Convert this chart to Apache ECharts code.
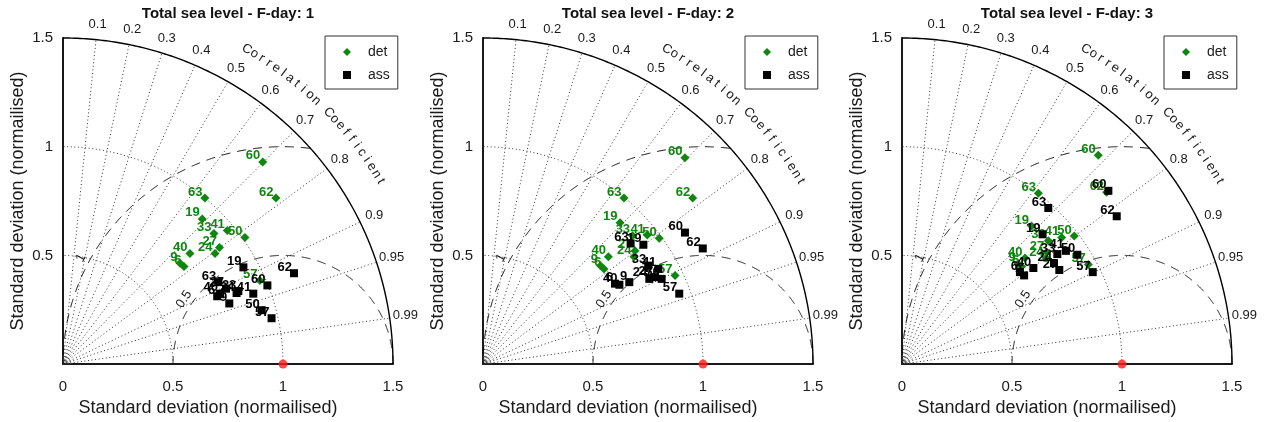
<!DOCTYPE html>
<html><head><meta charset="utf-8">
<script src="https://cdn.jsdelivr.net/npm/echarts@6/dist/echarts.min.js"></script>
<style>html,body{margin:0;padding:0;background:#fff}#c{width:1264px;height:422px}</style>
</head><body><div id="c"></div><script>
// ---- data (x = std*corr, y = std*sqrt(1-corr^2), normalised) ----
const STATIONS = ['6','9','19','24','27','33','40','41','50','57','60','62','63'];

const DET_DAY1 = [[0.550,0.449],[0.532,0.464],[0.633,0.668],[0.691,0.509],[0.711,0.536],[0.686,0.601],[0.577,0.509],[0.747,0.615],[0.827,0.582],[0.895,0.385],[0.908,0.930],[0.968,0.764],[0.645,0.764]];
const ASS_DAY1 = [[0.701,0.312],[0.756,0.279],[0.820,0.445],[0.789,0.327],[0.741,0.347],[0.797,0.336],[0.714,0.324],[0.865,0.324],[0.903,0.248],[0.948,0.211],[0.929,0.362],[1.050,0.418],[0.706,0.377]];

const DET_DAY2 = [[0.550,0.438],[0.534,0.452],[0.623,0.650],[0.686,0.494],[0.691,0.521],[0.680,0.590],[0.570,0.494],[0.747,0.594],[0.801,0.579],[0.873,0.408],[0.918,0.949],[0.953,0.764],[0.641,0.764]];
const ASS_DAY2 = [[0.600,0.370],[0.665,0.377],[0.729,0.549],[0.756,0.392],[0.782,0.400],[0.751,0.453],[0.620,0.365],[0.797,0.438],[0.812,0.392],[0.892,0.324],[0.918,0.605],[0.999,0.532],[0.671,0.555]];

const DET_DAY3 = [[0.544,0.449],[0.528,0.462],[0.589,0.635],[0.655,0.488],[0.658,0.514],[0.665,0.567],[0.559,0.488],[0.726,0.582],[0.783,0.589],[0.847,0.458],[0.892,0.961],[0.930,0.791],[0.620,0.786]];
const ASS_DAY3 = [[0.536,0.423],[0.555,0.408],[0.639,0.597],[0.691,0.464],[0.715,0.433],[0.706,0.506],[0.597,0.442],[0.745,0.521],[0.797,0.503],[0.867,0.423],[0.938,0.797],[0.976,0.680],[0.665,0.718]];

const TITLES = ['Total sea level - F-day: 1','Total sea level - F-day: 2','Total sea level - F-day: 3'];
const STD_TICKS = [0, 0.5, 1, 1.5];
const CORR_TICKS = [0.1,0.2,0.3,0.4,0.5,0.6,0.7,0.8,0.9,0.95,0.99];
const STD_ARCS = [0.5, 1];
const RMS_ARCS = [0.5, 1];
const REF = [[1, 0]];
const AXIS_NAME = 'Standard deviation (normailised)';
const CORR_NAME = 'Correlation Coefficient';
const SERIES_NAMES = ['det', 'ass'];

// ---- layout / style ----
const FONT = 'Liberation Sans, Arial, Helvetica, sans-serif';
const GRID_LEFT = [63, 483, 902];
const GRID_TOP = 38, SIZE = 330;
const GREEN = '#0f870f';
const TXT = '#1a1a1a';
const RMS_LABEL_DEG = [146.5, 152];

const DAYS = [[DET_DAY1, ASS_DAY1], [DET_DAY2, ASS_DAY2], [DET_DAY3, ASS_DAY3]];

function deco(params, api) {
  const P = (x, y) => api.coord([x, y]);
  const polar = (r, a) => P(r * Math.cos(a), r * Math.sin(a));
  const RMAX = STD_TICKS[STD_TICKS.length - 1];
  const ch = [];
  const line = (pts, stroke, w, dash) => ch.push({
    type: 'polyline', silent: true, shape: { points: pts },
    style: { stroke: stroke, lineWidth: w, fill: null, lineDash: dash || null }
  });
  const text = (s, pt, rot, size) => ch.push({
    type: 'text', silent: true, x: pt[0], y: pt[1], rotation: rot || 0,
    style: { text: s, fill: TXT, fontSize: size, fontFamily: FONT, align: 'center', verticalAlign: 'middle' }
  });
  CORR_TICKS.forEach(c => line([P(0, 0), polar(RMAX, Math.acos(c))], '#333', 1, [1, 2.6]));
  STD_ARCS.forEach(r => {
    const pts = [];
    for (let i = 0; i <= 180; i++) pts.push(polar(r, i / 180 * Math.PI / 2));
    line(pts, '#333', 1, [1, 2.6]);
  });
  [0.012, 0.024, 0.036].forEach(r => {
    const pts = [];
    for (let i = 0; i <= 30; i++) pts.push(polar(r, i / 30 * Math.PI / 2));
    line(pts, '#666', 0.8, null);
  });
  RMS_ARCS.forEach((r, k) => {
    const pts = [];
    for (let i = 0; i <= 720; i++) {
      const t = Math.PI * i / 720;
      const x = REF[0][0] + r * Math.cos(t), y = REF[0][1] + r * Math.sin(t);
      if (x * x + y * y <= RMAX * RMAX + 1e-9 && x >= 0) pts.push(P(x, y));
    }
    line(pts, '#111', 1, [9, 7]);
    const a = RMS_LABEL_DEG[k] * Math.PI / 180;
    const rr = r + 0.04;
    const pt = P(REF[0][0] + rr * Math.cos(a), REF[0][1] + rr * Math.sin(a));
    text(String(r), pt, a - Math.PI / 2, 13);
  });
  const outer = [];
  for (let i = 0; i <= 180; i++) outer.push(polar(RMAX, i / 180 * Math.PI / 2));
  line(outer, '#000', 1.4, null);
  CORR_TICKS.forEach(c => text(String(c), polar(1.572, Math.acos(c)), 0, 13));
  const chars = CORR_NAME.split('');
  const a0 = 60.0, a1 = 30.2;
  chars.forEach((cch, i) => {
    if (cch === ' ') return;
    const deg = a0 - (a0 - a1) * i / (chars.length - 1);
    const a = deg * Math.PI / 180;
    text(cch, polar(1.672, a), a - Math.PI / 2, 13);
  });
  return { type: 'group', children: ch };
}

const grid = [], xAxis = [], yAxis = [], series = [], legend = [], title = [];
GRID_LEFT.forEach((left, i) => {
  grid.push({ left: left, top: GRID_TOP, width: SIZE, height: SIZE });
  title.push({ text: TITLES[i], left: left + SIZE / 2, top: 6, textAlign: 'center', padding: 0,
    textStyle: { fontSize: 15, fontWeight: 'bold', color: '#111', fontFamily: FONT } });
  const axBase = {
    gridIndex: i, type: 'value', min: STD_TICKS[0], max: STD_TICKS[STD_TICKS.length - 1], interval: 0.5,
    axisLine: { show: true, onZero: false, lineStyle: { color: '#1a1a1a', width: 2 } },
    axisTick: { show: false }, splitLine: { show: false },
    name: AXIS_NAME, nameLocation: 'middle'
  };
  xAxis.push(Object.assign({}, axBase, {
    axisLabel: { margin: 15, fontSize: 15, color: TXT, fontFamily: FONT },
    nameGap: 31, nameTextStyle: { fontSize: 18, color: TXT, fontFamily: FONT, padding: [0, 40, 0, 0] }
  }));
  yAxis.push(Object.assign({}, axBase, {
    axisLabel: { margin: 10, fontSize: 15, color: TXT, fontFamily: FONT, showMinLabel: false },
    nameGap: 36, nameTextStyle: { fontSize: 18, color: TXT, fontFamily: FONT, padding: [0, 0, 0, 0] }
  }));
  series.push({
    type: 'custom', xAxisIndex: i, yAxisIndex: i, data: [[0, 0]], renderItem: deco, z: 1, silent: true
  });
  const [det, ass] = DAYS[i];
  [[det, 'diamond', GREEN, 9], [ass, 'rect', '#000', 8]].forEach(([arr, sym, col, sz], k) => {
    series.push({
      type: 'scatter', name: SERIES_NAMES[k], xAxisIndex: i, yAxisIndex: i,
      symbol: sym, symbolSize: sz, itemStyle: { color: col, opacity: 1 }, z: 3 + k,
      data: arr.map((v, j) => ({ name: STATIONS[j], value: v })),
      label: { show: true, formatter: '{b}', position: 'left', distance: 0, offset: [2, -6],
        color: col, fontSize: 13, fontWeight: 'bold', fontFamily: FONT }
    });
  });
  series.push({
    type: 'scatter', name: 'ref', xAxisIndex: i, yAxisIndex: i, data: REF,
    symbol: 'circle', symbolSize: 9, itemStyle: { color: '#ff1a1a' }, z: 6, silent: true
  });
  legend.push({
    left: left + 262, top: 36, orient: 'vertical', data: SERIES_NAMES,
    itemWidth: 8, itemHeight: 8, itemGap: 9, padding: [9, 8, 7, 18],
    borderColor: '#333', borderWidth: 1, backgroundColor: '#fff',
    textStyle: { fontSize: 14, fontFamily: FONT, color: TXT, padding: [0, 0, 0, 12], lineHeight: 14 }
  });
});

const chart = echarts.init(document.getElementById('c'), null, { renderer: 'canvas' });
chart.setOption({ animation: false, backgroundColor: '#fff', title, grid, xAxis, yAxis, legend, series });
</script></body></html>
